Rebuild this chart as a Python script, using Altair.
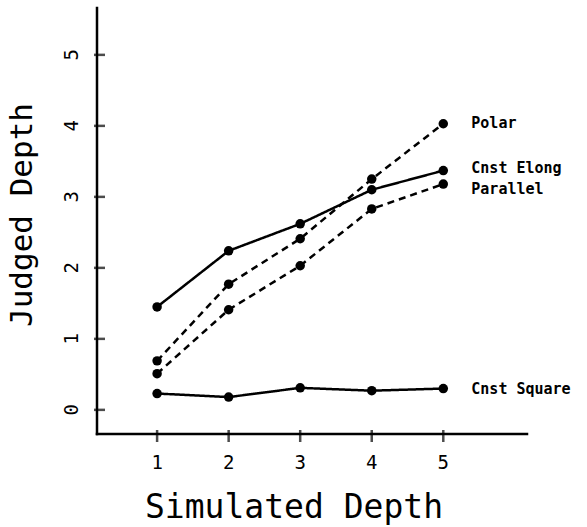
import altair as alt
import pandas as pd

# ---- data ----
simulated_depth = [1, 2, 3, 4, 5]
polar = [0.69, 1.77, 2.41, 3.25, 4.03]
cnst_elong = [1.45, 2.24, 2.62, 3.10, 3.37]
parallel = [0.51, 1.41, 2.03, 2.83, 3.18]
cnst_square = [0.23, 0.18, 0.31, 0.27, 0.30]

series_names = ["Polar", "Cnst Elong", "Parallel", "Cnst Square"]
series_values = [polar, cnst_elong, parallel, cnst_square]
series_style = ["dashed", "solid", "dashed", "solid"]

x_ticks = [1, 2, 3, 4, 5]
y_ticks = [0, 1, 2, 3, 4, 5]
x_title = "Simulated Depth"
y_title = "Judged Depth"

# ---- styling ----
W, H = 430, 426
X0, X1 = 0.16, 6.17
Y0, Y1 = -0.34, 5.66
PX_X = W / (X1 - X0)   # pixels per x unit
PX_Y = H / (Y1 - Y0)   # pixels per y unit
label_dy = {"Polar": -1, "Cnst Elong": -3, "Parallel": 5, "Cnst Square": 0}
FONT = "DejaVu Sans Mono"
INK = "black"

rows = []
for name, vals, style in zip(series_names, series_values, series_style):
    for xv, yv in zip(simulated_depth, vals):
        rows.append({"series": name, "style": style, "x": xv, "y": yv})
df = pd.DataFrame(rows)
last = df[df["x"] == simulated_depth[-1]]

x_scale = alt.Scale(domain=[X0, X1], nice=False, zero=False)
y_scale = alt.Scale(domain=[Y0, Y1], nice=False, zero=False)

X = lambda: alt.X("x:Q", scale=x_scale, axis=None)
Y = lambda: alt.Y("y:Q", scale=y_scale, axis=None)

# ---- series ----
base = alt.Chart(df)
lines = base.mark_line(color=INK, strokeWidth=2.5).encode(
    x=X(),
    y=Y(),
    detail="series:N",
    strokeDash=alt.StrokeDash(
        "style:N",
        scale=alt.Scale(domain=["solid", "dashed"], range=[[1, 0], [7, 5]]),
        legend=None,
    ),
)
points = base.mark_circle(color=INK, size=90, opacity=1).encode(x=X(), y=Y())

labels = []
for name in series_names:
    labels.append(
        alt.Chart(last[last["series"] == name])
        .mark_text(align="left", baseline="middle", dx=28, dy=label_dy[name],
                   font=FONT, fontSize=15, fontWeight="bold", color=INK)
        .encode(x=X(), y=Y(), text="series:N")
    )

# ---- axis lines ----
axes_df = pd.DataFrame({"x": [X0, X0], "x2": [X1, X0], "y": [Y0, Y0], "y2": [Y0, Y1]})
axis_lines = alt.Chart(axes_df).mark_rule(color=INK, strokeWidth=2.5, strokeCap="square").encode(
    x=X(), y=Y(), x2="x2:Q", y2="y2:Q"
)

# ---- tick marks crossing the axes ----
xt_df = pd.DataFrame({"x": x_ticks, "label": [str(t) for t in x_ticks]})
yt_df = pd.DataFrame({"y": y_ticks, "label": [str(t) for t in y_ticks]})

x_tick_marks = alt.Chart(xt_df).mark_tick(
    orient="vertical", size=12, thickness=2.5, color=INK
).encode(x=X(), y=alt.YDatum(Y0 - 2 / PX_Y, axis=None))
y_tick_marks = alt.Chart(yt_df).mark_tick(
    orient="horizontal", size=11, thickness=2.5, color=INK
).encode(y=Y(), x=alt.XDatum(X0 + 2.5 / PX_X, axis=None))

# ---- tick labels ----
x_tick_labels = alt.Chart(xt_df).mark_text(
    font=FONT, fontSize=19, color=INK, align="center", baseline="middle"
).encode(x=X(), y=alt.YDatum(Y0 - 29 / PX_Y, axis=None), text="label:N")
y_tick_labels = alt.Chart(yt_df).mark_text(
    font=FONT, fontSize=19, color=INK, align="center", baseline="middle", angle=270
).encode(y=Y(), x=alt.XDatum(X0 - 25 / PX_X, axis=None), text="label:N")

# ---- axis titles ----
xtitle_df = pd.DataFrame({"t": [x_title]})
ytitle_df = pd.DataFrame({"t": [y_title]})
x_title_mark = alt.Chart(xtitle_df).mark_text(
    font=FONT, fontSize=33, color=INK, align="center", baseline="middle"
).encode(
    x=alt.XDatum(X0 + 197 / PX_X, axis=None),
    y=alt.YDatum(Y1 - 500 / PX_Y, axis=None),
    text="t:N",
)
y_title_mark = alt.Chart(ytitle_df).mark_text(
    font=FONT, fontSize=31, color=INK, align="center", baseline="middle", angle=270
).encode(
    x=alt.XDatum(X0 - 74 / PX_X, axis=None),
    y=alt.YDatum(Y1 - 207 / PX_Y, axis=None),
    text="t:N",
)

chart = alt.layer(
    lines, points, *labels,
    axis_lines, x_tick_marks, y_tick_marks,
    x_tick_labels, y_tick_labels, x_title_mark, y_title_mark,
).properties(
    width=W,
    height=H,
    autosize=alt.AutoSizeParams(type="none"),
    padding={"left": 97, "top": 8, "right": 60, "bottom": 93},
    background="white",
).configure_view(stroke=None)

chart.save("out.html", embed_options={"renderer": "svg", "actions": False})
